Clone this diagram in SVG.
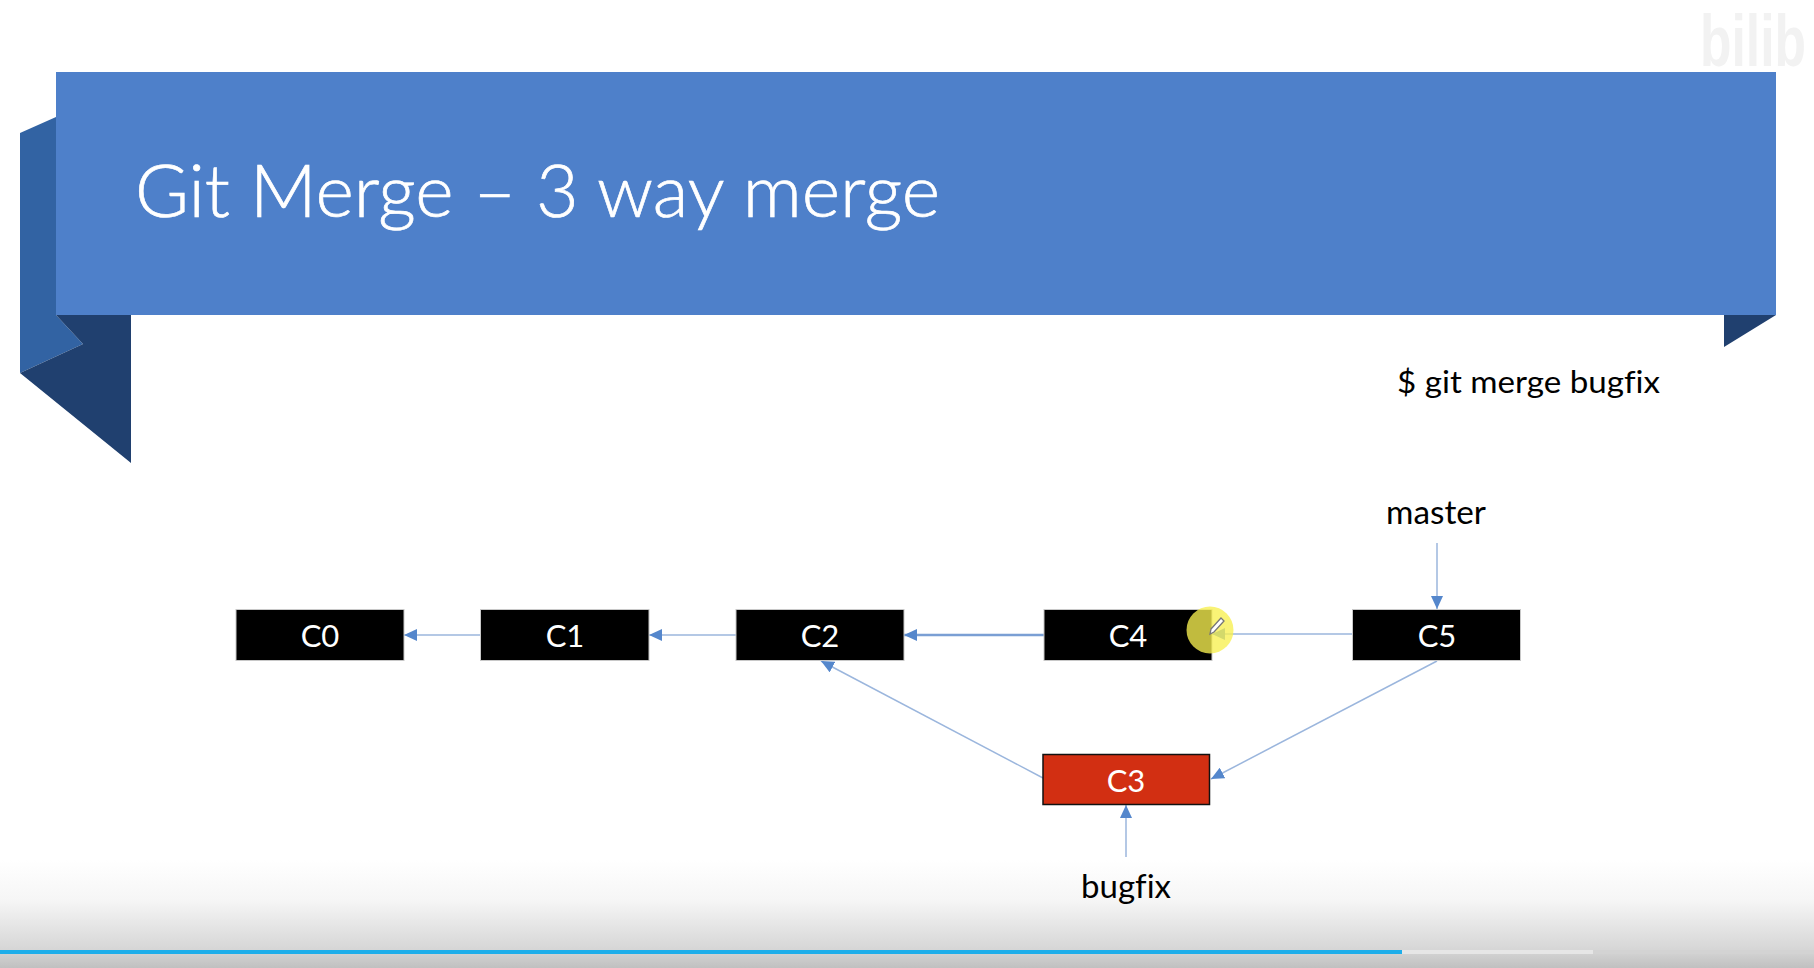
<svg xmlns="http://www.w3.org/2000/svg" width="1814" height="968" viewBox="0 0 1814 968">
<style>
text{font-family:"Lato","Open Sans","Liberation Sans",sans-serif;font-variant-ligatures:none}
.n{fill:#000;stroke:#c8c8c8;stroke-width:1}
.t{fill:#fff;font-size:31px;text-anchor:middle}
.l{fill:#000;font-size:32px;text-anchor:middle}
.c{stroke:#9bb6dd;stroke-width:1.5;fill:none;marker-end:url(#a)}
</style>
<defs>
<marker id="a" markerUnits="userSpaceOnUse" markerWidth="14" markerHeight="12" refX="13" refY="6" orient="auto"><path d="M0 0L13 6L0 12Z" fill="#5587cc"/></marker>
<linearGradient id="g" x1="0" y1="0" x2="0" y2="1"><stop offset="0" stop-color="#fff"/><stop offset=".37" stop-color="#f6f6f6"/><stop offset=".6" stop-color="#e6e6e6"/><stop offset=".83" stop-color="#d6d6d6"/><stop offset="1" stop-color="#c0c0c0"/></linearGradient>
</defs>
<rect width="1814" height="968" fill="#fff"/>
<g id="watermark"><text x="1700" y="66" font-size="72" font-weight="700" fill="#f2f2f2" style="font-family:'Liberation Sans',sans-serif" textLength="106" lengthAdjust="spacingAndGlyphs">bilib</text></g>
<g id="banner">
<path d="M20 133L56 117V315L83 344L20 373Z" fill="#3263a3"/>
<path d="M56 315H131V463L20 373L83 344Z" fill="#20406f"/>
<path d="M1724 315H1776L1724 347Z" fill="#20406f"/>
<rect x="56" y="72" width="1720" height="243" fill="#4e80ca"/>
<text x="135" y="217" font-size="73" font-weight="300" fill="#fff" stroke="#fff" stroke-width=".7" textLength="805" lengthAdjust="spacingAndGlyphs">Git Merge – 3 way merge</text>
</g>
<g id="command"><text x="1397" y="393" font-size="31" fill="#000" textLength="263" lengthAdjust="spacingAndGlyphs">$ git merge bugfix</text></g>
<g id="connectors">
<path class="c" d="M481 635H404"/>
<path class="c" d="M736 635H649"/>
<path class="c" d="M1044 635H904" style="stroke:#7a9fd4;stroke-width:2.5"/>
<path class="c" d="M1353 634H1212"/>
<path class="c" d="M1043 778L821 661"/>
<path class="c" d="M1437 661L1211 779"/>
<path class="c" d="M1437 543V609"/>
<path class="c" d="M1126 857V805"/>
</g>
<g id="C0"><rect class="n" x="236" y="609.5" width="168" height="51"/><text class="t" x="320" y="647">C0</text></g>
<g id="C1"><rect class="n" x="480.5" y="609.5" width="168.5" height="51"/><text class="t" x="565" y="647">C1</text></g>
<g id="C2"><rect class="n" x="736" y="609.5" width="168" height="51"/><text class="t" x="820" y="647">C2</text></g>
<g id="C4"><rect class="n" x="1044" y="609.5" width="168" height="51"/><text class="t" x="1128" y="647">C4</text></g>
<g id="C5"><rect class="n" x="1352.5" y="609.5" width="168" height="51"/><text class="t" x="1437" y="647">C5</text></g>
<g id="C3"><rect x="1043" y="754.5" width="166.5" height="50" fill="#d22f12" stroke="#111" stroke-width="1.5"/><text class="t" x="1126" y="792">C3</text></g>
<g id="master"><text class="l" x="1436" y="524" textLength="100" lengthAdjust="spacingAndGlyphs">master</text></g>
<rect x="0" y="860" width="1814" height="108" fill="url(#g)"/>
<g id="bugfix"><text class="l" x="1126" y="898" textLength="90" lengthAdjust="spacingAndGlyphs">bugfix</text></g>
<g id="cursor">
<circle cx="1210" cy="630" r="23.5" fill="#f7f050" fill-opacity=".78"/>
<path d="M1211 629L1221 618L1224 621L1214 632L1210 634Z" fill="#fff" stroke="#777" stroke-width="1.3"/>
</g>
<g id="progress">
<rect x="0" y="950" width="1814" height="4" fill="#d3d3d3"/>
<rect x="1402" y="950" width="191" height="4" fill="#e6e6e6"/>
<rect x="0" y="950" width="1402" height="4" fill="#1eaeea"/>
</g>
</svg>
